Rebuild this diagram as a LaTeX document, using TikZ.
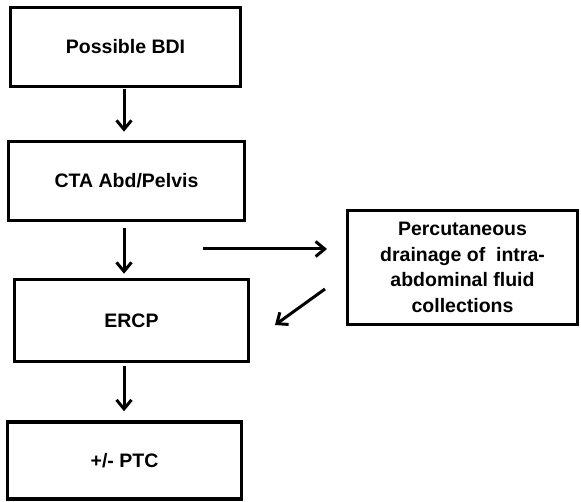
\documentclass[tikz,border=0pt]{standalone}
\usepackage{fontspec}
\setmainfont{Liberation Sans}
\usetikzlibrary{arrows.meta}
\begin{document}
\begin{tikzpicture}[x=1pt,y=-1pt,
  box/.style={draw=black,line width=3.6pt,rectangle,align=center,inner sep=0pt,
    font=\bfseries\fontsize{19.5}{25.5}\selectfont},
  arr/.style={line width=3pt,-{Straight Barb[length=9pt,width=15pt,line width=3pt]}}]
\useasboundingbox[fill=white] (0,0) rectangle (581,502);
\node[box,minimum width=230pt,minimum height=79pt] (b1) at (125.5,47) {Possible BDI};
\node[box,minimum width=236pt,minimum height=79pt] (b2) at (126.5,181) {CTA Abd/Pelvis};
\node[box,minimum width=234pt,minimum height=82pt] (b3) at (131.5,320.5) {ERCP};
\node[box,minimum width=230pt,minimum height=114pt] (b4) at (462.5,267.5) {Percutaneous\\drainage of\ \ intra-\\abdominal fluid\\collections};
\node[box,minimum width=234pt,minimum height=77pt] (b5) at (124.5,460.5) {+/- PTC};
\coordinate (h1) at (203,249);
\coordinate (h2) at (327,249);
\coordinate (d1) at (325,289);
\coordinate (d2) at (275,325);
\coordinate (x1) at (124,0);
\draw[arr,shorten <=1pt,shorten >=8pt] (b1.south -| x1) -- (b2.north -| x1);
\draw[arr,shorten <=6pt,shorten >=4pt] (b2.south -| x1) -- (b3.north -| x1);
\draw[arr,shorten <=3pt,shorten >=9pt] (b3.south -| x1) -- (b5.north -| x1);
\draw[arr] (h1) -- (h2);
\draw[arr] (d1) -- (d2);
\end{tikzpicture}
\end{document}
